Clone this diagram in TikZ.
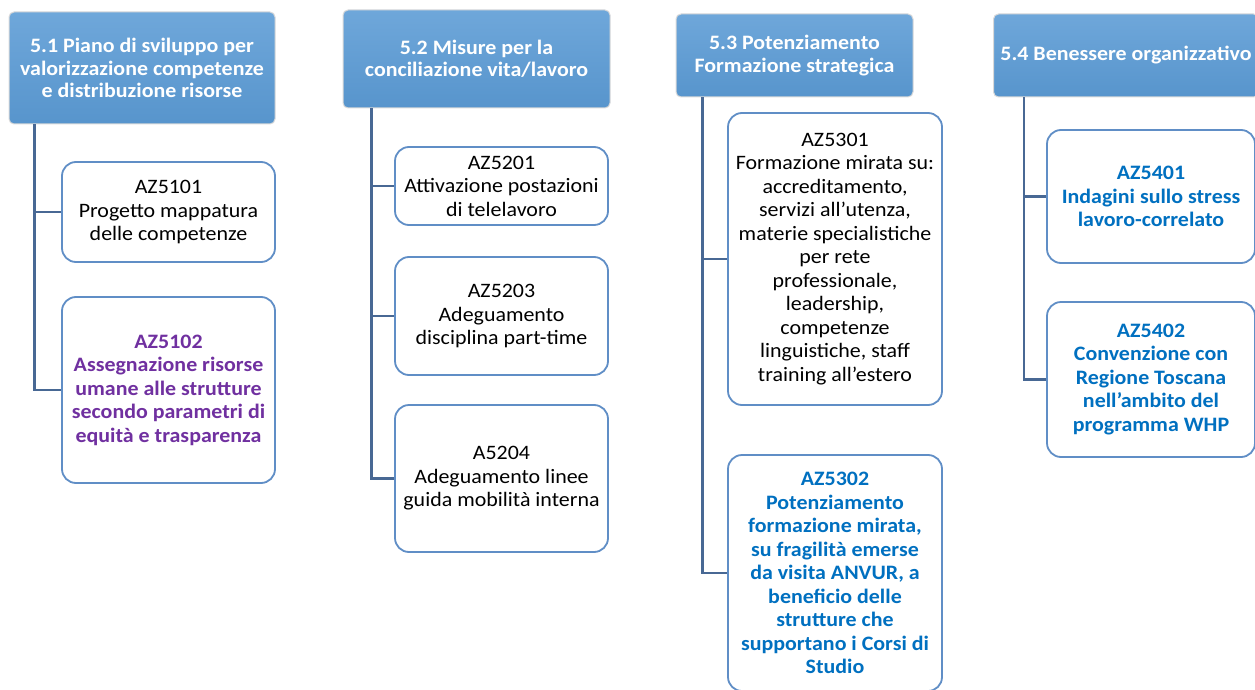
\documentclass[tikz,border=0pt]{standalone}
\usepackage{fontspec}
\setmainfont{Carlito}[FakeStretch = 1.07]
\usepackage{xcolor}
\definecolor{hdrblue}{RGB}{91, 155, 213}
\definecolor{boxline}{RGB}{96, 142, 198}
\definecolor{linkcol}{RGB}{72, 104, 148}
\definecolor{azpurple}{RGB}{112, 48, 160}
\definecolor{azblue}{RGB}{0, 112, 192}
\usetikzlibrary{positioning,calc}

\begin{document}
\begin{tikzpicture}[x = 1pt, y = -1pt,
  head/.style = {rectangle, rounded corners = 5pt, draw = gray!30, line width = 1pt,
    top color = hdrblue!88!white, bottom color = hdrblue!96!black, text = white,
    font = \fontsize{20.5}{22.5}\selectfont\bfseries, align = center, inner sep = 2pt},
  act/.style = {rectangle, rounded corners = 14pt, draw = boxline, line width = 1.8pt,
    fill = white, font = \fontsize{20.5}{23.5}\selectfont, align = center, inner sep = 2pt},
  link/.style = {draw = linkcol, line width = 2.2pt}]
\useasboundingbox (0,0) rectangle (1255,690);
% Headers
\node[head, minimum width = 266, minimum height = 112] (h51) at (142,68) {5.1 Piano di sviluppo per\\valorizzazione competenze\\e distribuzione risorse};
\node[head, minimum width = 267, minimum height = 98] (h52) at (476.5,59) {5.2 Misure per la\\conciliazione vita/lavoro};
\node[head, minimum width = 237, minimum height = 83] (h53) at (794.5,55.5) {5.3 Potenziamento\\Formazione strategica};
\node[head, minimum width = 265, minimum height = 83] (h54) at (1126,55.5) {5.4 Benessere organizzativo};
% 5.1
\node[act, minimum width = 213, minimum height = 100] (a5101) at (168.5,212) {AZ5101\\Progetto mappatura\\delle competenze};
\node[act, minimum width = 213, minimum height = 186, text = azpurple, font = \fontsize{20.5}{23.5}\selectfont\bfseries] (a5102) at (168.5,390) {AZ5102\\Assegnazione risorse\\umane alle strutture\\secondo parametri di\\equità e trasparenza};
% 5.2
\node[act, minimum width = 213, minimum height = 78] (a5201) at (501.5,186) {AZ5201\\Attivazione postazioni\\di telelavoro};
\node[act, minimum width = 213, minimum height = 118] (a5203) at (501.5,316) {AZ5203\\Adeguamento\\disciplina part-time};
\node[act, minimum width = 213, minimum height = 147] (a5204) at (501.5,478.5) {A5204\\Adeguamento linee\\guida mobilità interna};
% 5.3
\node[act, minimum width = 214, minimum height = 292] (a5301) at (835,259) {AZ5301\\Formazione mirata su:\\accreditamento,\\servizi all'utenza,\\materie specialistiche\\per rete\\professionale,\\leadership,\\competenze\\linguistiche, staff\\training all'estero};
\node[act, minimum width = 214, minimum height = 236, text = azblue, font = \fontsize{20.5}{23.5}\selectfont\bfseries] (a5302) at (835,573) {AZ5302\\Potenziamento\\formazione mirata,\\su fragilità\ emerse\\da visita ANVUR, a\\beneficio delle\\strutture che\\supportano i Corsi di\\Studio};
% 5.4
\node[act, minimum width = 208, minimum height = 133, text = azblue, font = \fontsize{20.5}{23.5}\selectfont\bfseries] (a5401) at (1151,196.5) {AZ5401\\Indagini sullo stress\\lavoro-correlato};
\node[act, minimum width = 208, minimum height = 155, text = azblue, font = \fontsize{20.5}{23.5}\selectfont\bfseries] (a5402) at (1151,379.5) {AZ5402\\Convenzione con\\Regione Toscana\\nell'ambito del\\programma WHP};
% Connectors
\draw[link] ([xshift = 26pt]h51.south west) |- (a5101.west);
\draw[link] ([xshift = 26pt]h51.south west) |- (a5102.west);
\draw[link] ([xshift = 29pt]h52.south west) |- (a5201.west);
\draw[link] ([xshift = 29pt]h52.south west) |- (a5203.west);
\draw[link] ([xshift = 29pt]h52.south west) |- (a5204.west);
\draw[link] ([xshift = 27pt]h53.south west) |- (a5301.west);
\draw[link] ([xshift = 27pt]h53.south west) |- (a5302.west);
\draw[link] ([xshift = 31pt]h54.south west) |- (a5401.west);
\draw[link] ([xshift = 31pt]h54.south west) |- (a5402.west);
\end{tikzpicture}
\end{document}
